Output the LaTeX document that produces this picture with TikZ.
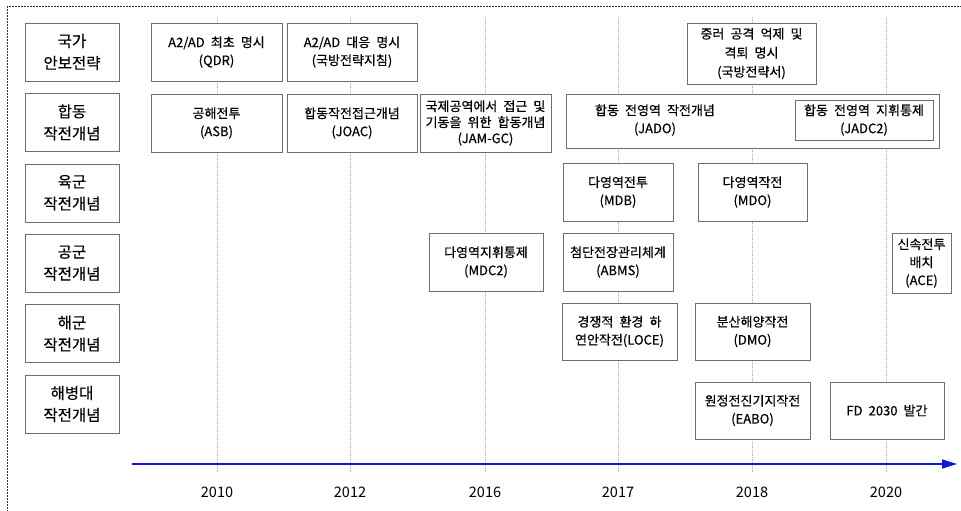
\documentclass[tikz,border=0pt]{standalone}
\usepackage{fontspec}
\setmainfont[WordSpace=2.1, FakeBold=0.45]{Noto Sans CJK KR}
\newfontfamily\yearfont{Noto Sans CJK KR}
\usetikzlibrary{positioning, arrows.meta}

\definecolor{tline}{RGB}{20,20,225}
\definecolor{boxgray}{RGB}{110,110,110}

\begin{document}
\begin{tikzpicture}[x=1pt, y=-1pt,
    cat/.style={draw=boxgray, fill=white, inner sep=0pt, minimum width=94pt, minimum height=58pt, align=center, font=\fontsize{15.5}{22}\selectfont},
    ev/.style={draw=boxgray, fill=white, inner sep=0pt, align=center, font=\fontsize{13}{18}\selectfont},
    grid/.style={densely dotted, gray!55, line width=0.6pt}]
    \useasboundingbox (0,0) rectangle (961,511);
    \draw[dash pattern=on 2pt off 1pt, gray!40!black, line width=0.7pt] (7,6) rectangle (990,540);

    % year grid
    \foreach \yr/\xx in {2010/217, 2012/350, 2016/485, 2017/618, 2018/752, 2020/886} {
        \coordinate (top\yr) at (\xx,17);
        \coordinate (bot\yr) at (\xx,473);
        \draw[grid] (top\yr) -- (bot\yr);
        \node[font=\yearfont\fontsize{14.5}{16}\selectfont] (y\yr) at (\xx,492) {\yr};
    }

    % timeline
    \coordinate (tstart) at (132,464);
    \coordinate (tend) at (957,464);
    \draw[-{Triangle[length=15pt,width=9pt]}, line width=1.5pt, tline] (tstart) -- (tend);

    % row labels
    \node[cat] (natl) at (72,52) {국가\\안보전략};
    \node[cat, below=12pt of natl] (joint) {합동\\작전개념};
    \node[cat, below=12pt of joint] (army) {육군\\작전개념};
    \node[cat, below=12pt of army] (airf) {공군\\작전개념};
    \node[cat, below=12pt of airf] (navy) {해군\\작전개념};
    \node[cat, below=12pt of navy] (usmc) {해병대\\작전개념};

    % national strategy
    \node[ev, minimum width=131pt, minimum height=58pt] (qdr) at (216.5,52) {A2/AD 최초 명시\\(QDR)};
    \node[ev, minimum width=130pt, minimum height=58pt] (dsg) at (352,52) {A2/AD 대응 명시\\(국방전략지침)};
    \node[ev, minimum width=129pt, minimum height=61pt, font=\fontsize{13}{19}\selectfont] (nds) at (751.5,53.5) {중러 공격 억제 및\\격퇴 명시\\(국방전략서)};

    % joint
    \node[ev, minimum width=131pt, minimum height=58pt] (asb) at (216.5,123) {공해전투\\(ASB)};
    \node[ev, minimum width=130pt, minimum height=58pt] (joac) at (352,123) {합동작전접근개념\\(JOAC)};
    \node[ev, minimum width=131pt, minimum height=58pt, font=\fontsize{13}{16}\selectfont] (jamgc) at (485.5,123) {국제공역에서 접근 및\\기동을 위한 합동개념\\(JAM-GC)};
    \node[ev, minimum width=373pt, minimum height=54pt] (jado) at (752.5,121) {};
    \node[ev, draw=none, fill=none] (jadot) at (655,120) {합동 전영역 작전개념\\(JADO)};
    \node[ev, minimum width=138pt, minimum height=40pt] (jadc2) at (864,120) {합동 전영역 지휘통제\\(JADC2)};

    % services
    \node[ev, minimum width=110pt, minimum height=58pt] (mdb) at (618,192) {다영역전투\\(MDB)};
    \node[ev, minimum width=109pt, minimum height=58pt] (mdo) at (752.5,192) {다영역작전\\(MDO)};
    \node[ev, minimum width=114pt, minimum height=58pt] (mdc2) at (486,262) {다영역지휘통제\\(MDC2)};
    \node[ev, minimum width=110pt, minimum height=58pt] (abms) at (618,262) {첨단전장관리체계\\(ABMS)};
    \node[ev, minimum width=59pt, minimum height=60pt] (ace) at (921.5,263) {신속전투\\배치\\(ACE)};
    \node[ev, minimum width=115pt, minimum height=57pt] (loce) at (619.5,331.5) {경쟁적 환경 하\\연안작전(LOCE)};
    \node[ev, minimum width=115pt, minimum height=57pt] (dmo) at (752.5,331.5) {분산해양작전\\(DMO)};
    \node[ev, minimum width=115pt, minimum height=57pt] (eabo) at (752.5,410.5) {원정전진기지작전\\(EABO)};
    \node[ev, minimum width=114pt, minimum height=57pt] (fd) at (887,410.5) {FD 2030 발간};
\end{tikzpicture}
\end{document}
